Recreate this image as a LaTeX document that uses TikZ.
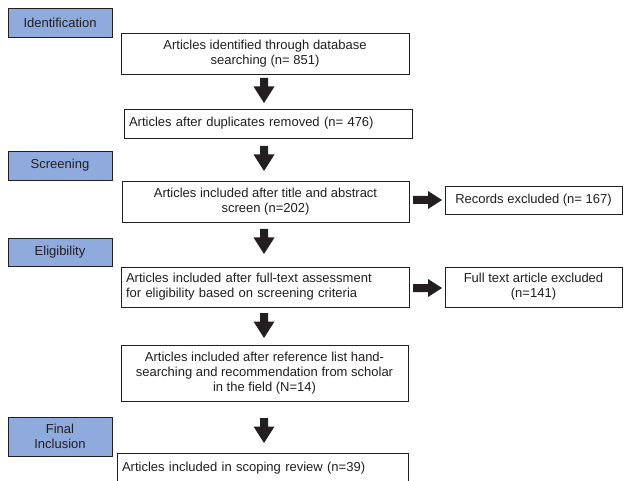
\documentclass[tikz,border=0pt]{standalone}
\usepackage{fontspec}
\setmainfont{Liberation Sans}
\definecolor{stageblue}{RGB}{143,170,220}
\definecolor{ink}{RGB}{35,31,32}
\begin{document}
\begin{tikzpicture}[x=1pt,y=-1pt,
  font=\fontsize{13}{15}\selectfont,
  stage/.style={draw=ink, line width=0.9pt, fill=stageblue, text=ink, align=center,
    inner sep=0pt, minimum width=104pt},
  box/.style={draw=ink, line width=0.9pt, fill=white, text=ink, inner sep=0pt},
  cbox/.style={box, align=center},
  lbox/.style={box, align=left, inner xsep=5pt},
  darrow/.pic={\fill[ink] (-4,-12.5) -- (4,-12.5) -- (4,-4) -- (10.5,-4)
      -- (0,12.5) -- (-10.5,-4) -- (-4,-4) -- cycle;},
  rarrow/.pic={\fill[ink] (-14.5,-4) -- (0.5,-4) -- (0.5,-9) -- (14.5,0)
      -- (0.5,9) -- (0.5,4) -- (-14.5,4) -- cycle;}]
\useasboundingbox (0,0) rectangle (624,481);
\clip (0,0) rectangle (624,481);
\fill[white] (0,0) rectangle (624,481);

% stage labels
\node[stage, minimum height=29pt] (s1) at (60,22.5) {Identification};
\node[stage, minimum height=29pt] (s2) at (60,165.5) {Screening};
\node[stage, minimum height=28pt] (s3) at (60,252) {Eligibility};
\node[stage, minimum height=39pt] (s4) at (60,436.5) {Final\\Inclusion};

% main column
\node[cbox, minimum width=288pt, minimum height=41pt] (b1) at (265,53.5)
  {Articles identified through database\\searching (n= 851)};
\node[lbox, minimum width=288pt, minimum height=29pt, text width=278pt] (b2) at (268,123.5)
  {Articles after duplicates removed (n= 476)};
\node[cbox, minimum width=287pt, minimum height=41pt] (b3) at (265.5,201.5)
  {Articles included after title and abstract\\screen (n=202)};
\node[lbox, minimum width=288pt, minimum height=40pt, text width=278pt] (b4) at (265,287)
  {Articles included after full-text assessment\\for eligibility based on screening criteria};
\node[cbox, minimum width=287pt, minimum height=56pt] (b5) at (264.5,373)
  {Articles included after reference list hand-\\searching and recommendation from scholar\\in the field (N=14)};
\node[lbox, minimum width=291pt, text width=281pt, text height=18.5pt, text depth=21.5pt,
  anchor=north] (b6) at (262.5,453)
  {Articles included in scoping review (n=39)};

% exclusion boxes
\node[cbox, minimum width=177pt, minimum height=28pt] (r1) at (533.5,200)
  {Records excluded (n= 167)};
\node[cbox, minimum width=177pt, minimum height=40pt] (r2) at (533.5,287)
  {Full text article excluded\\(n=141)};

% block arrows
\pic (a1) at (264,90.5) {darrow};
\pic (a2) at (264,158.5) {darrow};
\pic (a3) at (264,241.5) {darrow};
\pic (a4) at (264,325.5) {darrow};
\pic (a5) at (264,430.5) {darrow};
\pic (e1) at (427.5,200) {rarrow};
\pic (e2) at (427.5,288) {rarrow};
\end{tikzpicture}
\end{document}
